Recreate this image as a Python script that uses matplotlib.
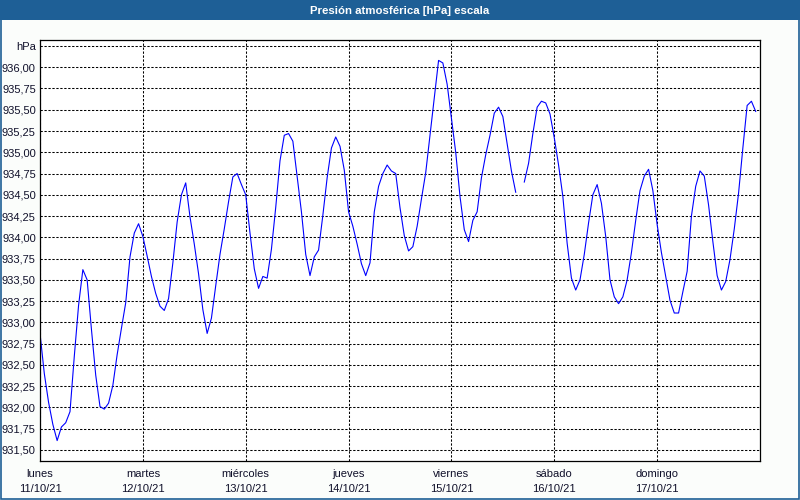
import matplotlib.pyplot as plt
import numpy as np
from matplotlib.patches import Rectangle

# hourly pressure readings (hPa), hour 0 = 11/10/21 00:00
presion = [
    932.87, 932.40, 932.06, 931.80, 931.61, 931.77, 931.82, 931.95,
    932.60, 933.20, 933.62, 933.50, 932.92, 932.38, 932.01, 931.98,
    932.05, 932.26, 932.62, 932.93, 933.23, 933.77, 934.05, 934.16,
    934.01, 933.78, 933.54, 933.34, 933.19, 933.14, 933.28, 933.70,
    934.18, 934.50, 934.64, 934.24, 933.92, 933.57, 933.15, 932.87,
    933.05, 933.43, 933.80, 934.10, 934.42, 934.71, 934.75, 934.62,
    934.50, 934.05, 933.63, 933.40, 933.54, 933.52, 933.86, 934.35,
    934.90, 935.20, 935.22, 935.13, 934.72, 934.30, 933.80, 933.55,
    933.77, 933.85, 934.26, 934.70, 935.05, 935.18, 935.07, 934.79,
    934.30, 934.13, 933.92, 933.69, 933.55, 933.70, 934.30, 934.60,
    934.75, 934.85, 934.78, 934.75, 934.35, 934.02, 933.84, 933.89,
    934.13, 934.45, 934.76, 935.20, 935.65, 936.08, 936.05, 935.80,
    935.40, 935.00, 934.48, 934.09, 933.95, 934.20, 934.30, 934.70,
    934.97, 935.20, 935.46, 935.53, 935.42, 935.10, 934.78, 934.53,
    np.nan, 934.65, 934.87, 935.22, 935.53, 935.60, 935.58, 935.45,
    935.17, 934.85, 934.48, 933.93, 933.52, 933.38, 933.50, 933.80,
    934.17, 934.50, 934.62, 934.40, 934.01, 933.50, 933.30, 933.22,
    933.30, 933.50, 933.82, 934.20, 934.55, 934.72, 934.80, 934.55,
    934.15, 933.82, 933.54, 933.26, 933.11, 933.11, 933.36, 933.60,
    934.25, 934.60, 934.78, 934.72, 934.38, 933.95, 933.55, 933.38,
    933.48, 933.74, 934.10, 934.52, 935.05, 935.55, 935.60, 935.48,
]
horas = np.arange(len(presion))

dias = ["lunes", "martes", "miércoles", "jueves", "viernes", "sábado", "domingo"]
fechas = ["11/10/21", "12/10/21", "13/10/21", "14/10/21", "15/10/21", "16/10/21", "17/10/21"]

yticks = np.arange(931.5, 936.26, 0.25)
ylabels = [f"{v:.2f}".replace(".", ",") for v in yticks]
ylabels[-1] = "hPa"

plt.rcParams['font.family'] = ['Liberation Sans', 'DejaVu Sans']

txt = "#10102a"
fig = plt.figure(figsize=(8, 5), dpi=100, facecolor="#fbfdfb")

# title bar and frame
fig.patches.append(Rectangle((0, 1 - 20 / 500), 1, 20 / 500, transform=fig.transFigure,
                             facecolor="#1e5f96", edgecolor="none", zorder=0))
fig.patches.append(Rectangle((0.6 / 800, 0.6 / 500), 798.8 / 800, 498.8 / 500, transform=fig.transFigure,
                             facecolor="none", edgecolor="#1e5f96", linewidth=1.2, zorder=0))
fig.text(0.5, 1 - 10.5 / 500, "Presión atmosférica [hPa] escala", color="white",
         fontsize=8.2, fontweight="bold", ha="center", va="center")

ax = fig.add_axes([40 / 800, 39 / 500, 720 / 800, 421 / 500])
ax.set_facecolor("white")
ax.plot(horas, presion, color="#0000ff", linewidth=0.8)

ax.set_xlim(0, 168)
ax.set_ylim(931.37, 936.32)
ax.set_yticks(yticks)
ax.set_yticklabels(ylabels)
ax.set_xticks(np.arange(0, 168, 24))
ax.set_xticklabels([d + "\n" + f for d, f in zip(dias, fechas)], linespacing=1.6)
ax.tick_params(length=0, labelsize=8, colors=txt, pad=3)
ax.tick_params(axis="x", pad=6)

ax.grid(True, color="black", linestyle=(0, (2.2, 1.6)), linewidth=0.75)
for s in ax.spines.values():
    s.set_color("black")
    s.set_linewidth(0.9)

fig.savefig("out.png", dpi=100, facecolor=fig.get_facecolor())
